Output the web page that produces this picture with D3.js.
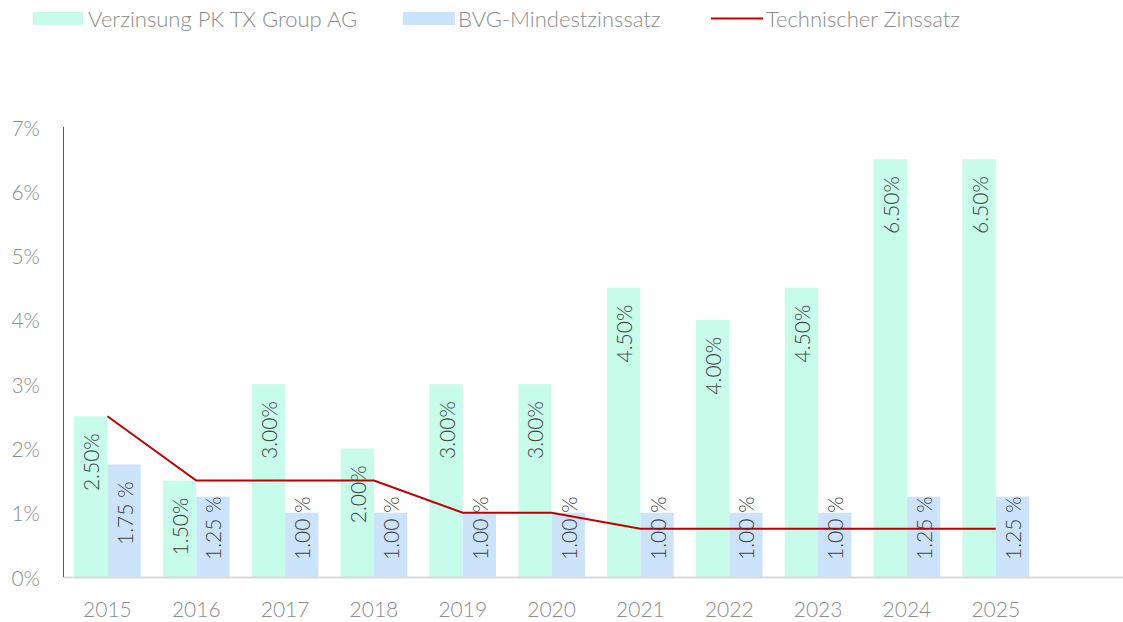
<!DOCTYPE html>
<html>
<head>
<meta charset="utf-8">
<script src="https://cdn.jsdelivr.net/npm/d3@7"></script>
<style>
  body { margin: 0; background: #fff; }
  text { font-family: Lato, "Open Sans", sans-serif; font-weight: 300; }
</style>
</head>
<body>
<div class="container"></div>
<script>
const years = ["2015", "2016", "2017", "2018", "2019", "2020", "2021", "2022", "2023", "2024", "2025"];
const verzinsung = [2.5, 1.5, 3.0, 2.0, 3.0, 3.0, 4.5, 4.0, 4.5, 6.5, 6.5];
const bvgMin = [1.75, 1.25, 1.0, 1.0, 1.0, 1.0, 1.0, 1.0, 1.0, 1.25, 1.25];
const techZins = [2.5, 1.5, 1.5, 1.5, 1.0, 1.0, 0.75, 0.75, 0.75, 0.75, 0.75];
const yTicks = [0, 1, 2, 3, 4, 5, 6, 7];
const legendNames = ["Verzinsung PK TX Group AG", "BVG-Mindestzinssatz", "Technischer Zinssatz"];

const width = 1123, height = 622;
const green = "#c6fce9", blue = "#cce4fb", red = "#c00000";

let svg = d3.select(".container")
  .append("svg")
  .attr("width", width)
  .attr("height", height);

// one empty slot on the right, like the original
let x = d3.scaleBand()
  .domain(years.concat([""]))
  .range([63, 1129])
  .paddingInner(0)
  .paddingOuter(0);
let barW = x.bandwidth() * 0.375;

let y = d3.scaleLinear()
  .domain([0, 7])
  .range([577, 127]);

// y tick labels
svg.append("g")
  .selectAll("text")
  .data(yTicks)
  .join("text")
  .attr("x", 40)
  .attr("y", d => y(d))
  .attr("text-anchor", "end")
  .attr("dominant-baseline", "central")
  .attr("font-size", 21)
  .attr("fill", "#8c8c8c")
  .text(d => d + "%");

// x labels
svg.append("g")
  .selectAll("text")
  .data(years)
  .join("text")
  .attr("x", d => x(d) + x.bandwidth() / 2)
  .attr("y", 608)
  .attr("text-anchor", "middle")
  .attr("dominant-baseline", "central")
  .attr("font-size", 21)
  .attr("fill", "#8c8c8c")
  .text(d => d);

// bars
let bars = svg.append("g");
bars.selectAll("rect.g")
  .data(years)
  .join("rect")
  .attr("class", "g")
  .attr("x", d => x(d) + x.bandwidth() / 2 - barW)
  .attr("y", (d, i) => y(verzinsung[i]))
  .attr("width", barW)
  .attr("height", (d, i) => y(0) - y(verzinsung[i]))
  .attr("fill", green);
bars.selectAll("rect.b")
  .data(years)
  .join("rect")
  .attr("class", "b")
  .attr("x", d => x(d) + x.bandwidth() / 2)
  .attr("y", (d, i) => y(bvgMin[i]))
  .attr("width", barW)
  .attr("height", (d, i) => y(0) - y(bvgMin[i]))
  .attr("fill", blue);

// axes lines
svg.append("line")
  .attr("x1", 63).attr("x2", width)
  .attr("y1", 577.5).attr("y2", 577.5)
  .attr("stroke", "#d9d9d9")
  .attr("stroke-width", 2);
svg.append("line")
  .attr("x1", 63.5).attr("x2", 63.5)
  .attr("y1", 127).attr("y2", 577)
  .attr("stroke", "#595959")
  .attr("stroke-width", 1);

// technical rate line
let line = d3.line()
  .x((d, i) => x(years[i]) + x.bandwidth() / 2)
  .y(d => y(d));
svg.append("path")
  .datum(techZins)
  .attr("d", line)
  .attr("fill", "none")
  .attr("stroke", red)
  .attr("stroke-width", 2);

// rotated data labels
function addLabels(values, offset, fmt) {
  let g = svg.append("g");
  values.forEach((v, i) => {
    let cx = x(years[i]) + x.bandwidth() / 2 + offset;
    let t = g.append("text")
      .attr("text-anchor", "end")
      .attr("dominant-baseline", "central")
      .attr("font-size", 21)
      .attr("fill", "#404040")
      .text(fmt(v));
    let len = t.node().getComputedTextLength();
    let top = Math.min(y(v) + 17, y(0) - 17 - len);
    t.attr("transform", `translate(${cx},${top}) rotate(-90)`);
  });
}
addLabels(verzinsung, -barW / 2, v => v.toFixed(2) + "%");
addLabels(bvgMin, barW / 2, v => v.toFixed(2) + " %");

// legend
let legend = svg.append("g");
let lx = [33, 403, 711];
legend.append("rect").attr("x", lx[0]).attr("y", 12).attr("width", 50).attr("height", 13).attr("fill", green);
legend.append("rect").attr("x", lx[1]).attr("y", 12).attr("width", 52).attr("height", 13).attr("fill", blue);
legend.append("line").attr("x1", lx[2]).attr("x2", lx[2] + 52).attr("y1", 18.5).attr("y2", 18.5)
  .attr("stroke", red).attr("stroke-width", 2);
legend.selectAll("text")
  .data(legendNames)
  .join("text")
  .attr("x", (d, i) => lx[i] + 55)
  .attr("y", 18)
  .attr("dominant-baseline", "central")
  .attr("font-size", 22)
  .attr("fill", "#8c8c8c")
  .text(d => d);
</script>
</body>
</html>
